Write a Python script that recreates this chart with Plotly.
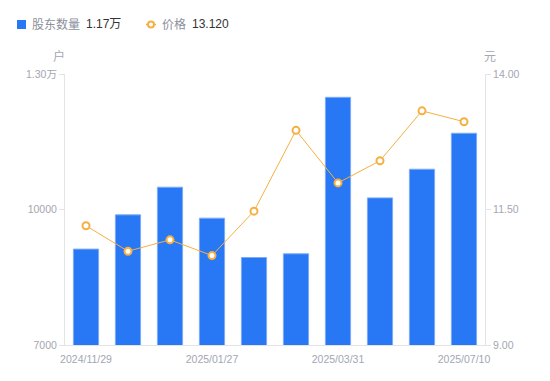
import plotly.graph_objects as go

dates = ["2024/11/29", "2024/12/20", "2025/01/10", "2025/01/27", "2025/02/20",
         "2025/03/10", "2025/03/31", "2025/04/30", "2025/06/10", "2025/07/10"]
holders = [9123, 9881, 10494, 9808, 8937, 9019, 12484, 10257, 10892, 11688]
price = [11.20, 10.73, 10.94, 10.65, 11.47, 12.96, 11.99, 12.40, 13.32, 13.12]
x_ticks = ["2024/11/29", "2025/01/27", "2025/03/31", "2025/07/10"]
left_ticks = [7000, 10000, 13000]
left_tick_text = ["7000", "10000", "1.30万"]
right_ticks = [9.0, 11.5, 14.0]
right_tick_text = ["9.00", "11.50", "14.00"]

BLUE = "#2878f5"
ORANGE = "#f5b041"
GRAY = "#a3a6b3"
AXIS = "#e3e4e8"
FONT = "Liberation Sans, Noto Sans CJK SC, sans-serif"
TICK = 10.5

OFF = 8  # page body margin
W, H = 550 - OFF, 381 - OFF
L, T = 65 - OFF, 74 - OFF
PW, PH = 420, 271
R, B = W - L - PW, H - T - PH


def px(x):
    return (x - OFF - L) / PW


def py(y):
    return (T + PH - (y - OFF)) / PH


fig = go.Figure()
fig.add_trace(go.Bar(x=dates, y=holders, width=0.6, marker=dict(color=BLUE, line=dict(color="#7eaaf5", width=1)),
                     name="股东数量", hoverinfo="skip"))
fig.add_trace(go.Scatter(x=dates, y=price, yaxis="y2", mode="lines+markers", name="价格",
                         line=dict(color=ORANGE, width=1),
                         marker=dict(symbol="circle", size=7, color="white", line=dict(color=ORANGE, width=2)),
                         hoverinfo="skip"))

fig.update_layout(
    width=W, height=H, margin=dict(l=L, r=R, t=T, b=B),
    paper_bgcolor="white", plot_bgcolor="white", showlegend=False,
    font=dict(family=FONT, size=TICK, color=GRAY),
    xaxis=dict(type="category", tickmode="array", tickvals=x_ticks, ticktext=x_ticks,
               showline=True, linecolor=AXIS, linewidth=1, showgrid=False, ticks="",
               ticklabelstandoff=4,
               tickfont=dict(size=TICK, color=GRAY), range=[-0.5, 9.5]),
    yaxis=dict(range=[7000, 13000], tickmode="array", tickvals=left_ticks, ticktext=left_tick_text,
               showline=True, linecolor=AXIS, linewidth=1, showgrid=False, zeroline=False,
               ticks="outside", ticklen=5, tickcolor=AXIS, tickfont=dict(size=TICK, color=GRAY)),
    yaxis2=dict(range=[9, 14], overlaying="y", side="right", tickmode="array", tickvals=right_ticks,
                ticktext=right_tick_text, showline=True, linecolor=AXIS, linewidth=1, showgrid=False,
                zeroline=False, ticks="outside", ticklen=5, tickcolor=AXIS, tickfont=dict(size=TICK, color=GRAY)),
)

# custom legend
fig.add_shape(type="rect", xref="paper", yref="paper", x0=px(17), x1=px(26), y0=py(29), y1=py(20),
              fillcolor=BLUE, line=dict(width=0))
fig.add_shape(type="line", xref="paper", yref="paper", x0=px(146), x1=px(156), y0=py(24.5), y1=py(24.5),
              line=dict(color=ORANGE, width=1.5))
fig.add_shape(type="circle", xref="paper", yref="paper", x0=px(148), x1=px(154), y0=py(27.5), y1=py(21.5),
              fillcolor="white", line=dict(color=ORANGE, width=2))


def ann(text, x, y, color, size=12, xanchor="left"):
    fig.add_annotation(text=text, xref="paper", yref="paper", x=px(x), y=py(y), showarrow=False,
                       xanchor=xanchor, yanchor="middle", font=dict(size=size, color=color, family=FONT))


ann("股东数量", 30, 24.5, "#8c909c")
ann("1.17万", 84, 24.5, "#333333")
ann("价格", 160, 24.5, "#8c909c")
ann("13.120", 190, 24.5, "#333333")
ann("户", 58.7, 56.7, GRAY, 12, "center")
ann("元", 490, 56.7, GRAY, 12, "center")

fig.write_html("out.html")
